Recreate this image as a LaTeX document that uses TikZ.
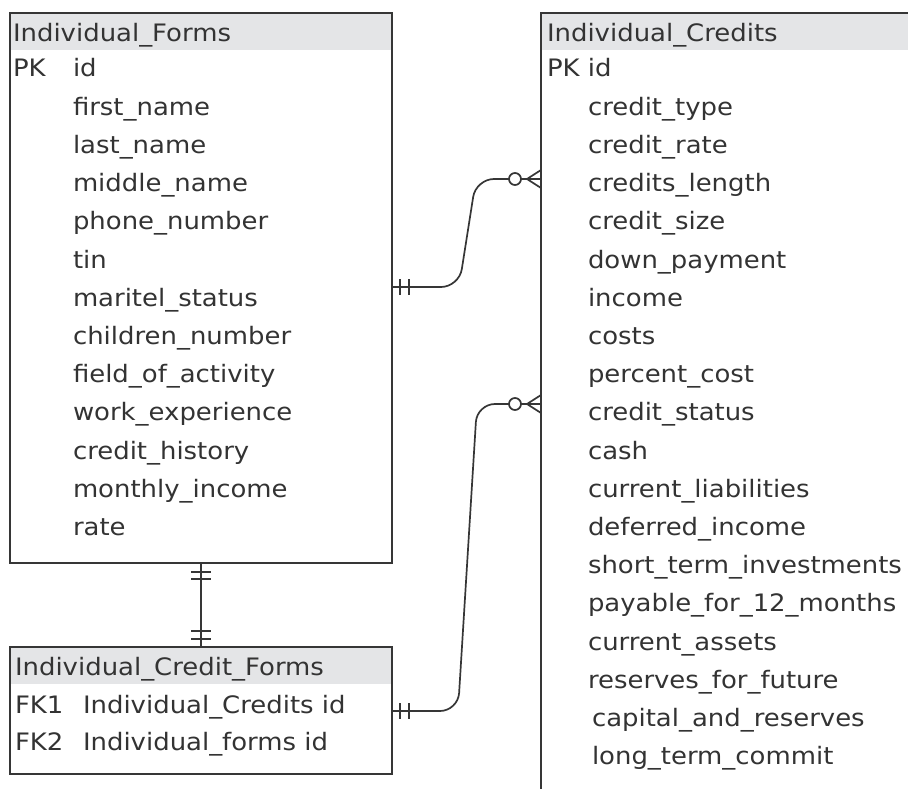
\documentclass[tikz,border=0pt]{standalone}
\usepackage{fontspec}
\setmainfont[FakeStretch=1.08]{DejaVu Sans}
\definecolor{linec}{HTML}{363636}
\definecolor{hdrc}{HTML}{E4E5E7}
\definecolor{txtc}{HTML}{333333}
\begin{document}
\begin{tikzpicture}[x=1pt,y=-1pt,
  tbl/.style={draw=linec, line width=1.8pt, inner sep=0, outer sep=0, anchor=north west},
  hdr/.style={fill=hdrc, inner sep=0, outer sep=0, anchor=north west, minimum height=37pt},
  txt/.style={anchor=base west, inner sep=0, outer sep=0, text=txtc, font=\fontsize{24}{28}\selectfont},
  rel/.style={draw=linec, line width=1.7pt, rounded corners=18pt},
  bar/.style={draw=linec, line width=1.7pt}]
\clip (0,0) rectangle (908,789);
\fill[white] (0,0) rectangle (908,789);

% ---- headers
\node[hdr, minimum width=382pt] (formshdr) at (10,13) {};
\node[hdr, minimum width=420pt] (credhdr) at (541,13) {};
\node[hdr, minimum width=382pt] (cfhdr) at (10,647) {};

% ---- table frames
\node[tbl, minimum width=382pt, minimum height=550pt] (forms) at (10,13) {};
\node[tbl, minimum width=420pt, minimum height=820pt] (cred) at (541,13) {};
\node[tbl, minimum width=382pt, minimum height=127pt] (cf) at (10,647) {};

% ---- Individual_Forms
\node[txt] (formsT) at (13,42) {Individual\_Forms};
\node[txt] (formsPK) at (13,77) {PK};
\node[txt] (formsid) at (73,77) {id};
\foreach \t [count=\i] in {first\_name,last\_name,middle\_name,phone\_number,tin,maritel\_status,children\_number,field\_of\_activity,work\_experience,credit\_history,monthly\_income,rate}
  \node[txt] (ff\i) at (73,{77+38.2*\i}) {\t};

% ---- Individual_Credits
\node[txt] (credT) at (547,42) {Individual\_Credits};
\node[txt] (credPK) at (547,77) {PK id};
\foreach \t [count=\i] in {credit\_type,credit\_rate,credits\_length,credit\_size,down\_payment,income,costs,percent\_cost,credit\_status,cash,current\_liabilities,deferred\_income,short\_term\_investments,payable\_for\_12\_months,current\_assets,reserves\_for\_future}
  \node[txt] (cc\i) at (588,{77+38.2*\i}) {\t};
\node[txt] (cc17) at (592,{77+38.2*17}) {capital\_and\_reserves};
\node[txt] (cc18) at (592,{77+38.2*18}) {long\_term\_commit};

% ---- Individual_Credit_Forms
\node[txt] (cfT) at (15,675) {Individual\_Credit\_Forms};
\node[txt] (cfk1) at (15,713) {FK1};
\node[txt] (cfa) at (83,713) {Individual\_Credits id};
\node[txt] (cfk2) at (15,750) {FK2};
\node[txt] (cfb) at (83,750) {Individual\_forms id};

% ---- connector end points
\coordinate (r1a) at (392,287);
\coordinate (r1b) at (541,179);
\coordinate (r2a) at (392,711);
\coordinate (r2b) at (541,404);
\coordinate (r3a) at (201,563);
\coordinate (r3b) at (201,647);

% relationship 1
\draw[rel] (r1a) -- (459,287) -- (476,179) -- (509,179);
\draw[bar] (400,279) -- (400,295) (409,279) -- (409,295);
\draw[bar] (515,179) circle (6pt);
\draw[bar] (r1b) -- (521,179);
\draw[bar] (527,179) -- (541,170) (527,179) -- (541,188);

% relationship 2
\draw[rel] (r2a) -- (458,711) -- (477,404) -- (509,404);
\draw[bar] (400,703) -- (400,719) (409,703) -- (409,719);
\draw[bar] (515,404) circle (6pt);
\draw[bar] (r2b) -- (521,404);
\draw[bar] (527,404) -- (541,395) (527,404) -- (541,413);

% relationship 3
\draw[bar] (r3a) -- (r3b);
\draw[bar] (191,572) -- (211,572) (191,579) -- (211,579);
\draw[bar] (191,631) -- (211,631) (191,639) -- (211,639);
\end{tikzpicture}
\end{document}
